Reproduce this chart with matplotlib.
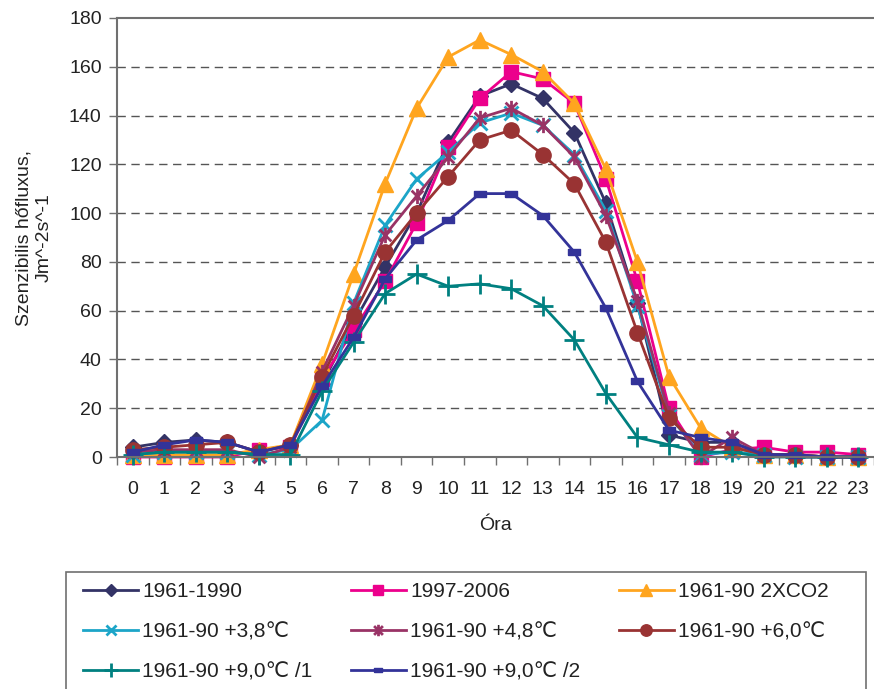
import matplotlib
matplotlib.use('Agg')
import matplotlib.pyplot as plt
import numpy as np
from matplotlib.path import Path
from matplotlib.patches import Rectangle

plt.rcParams['font.family'] = ['Liberation Sans', 'DejaVu Sans']

hours = list(range(24))

s_1961_1990 = [4, 6, 7, 6, 2, 5, 30, 55, 78, 100, 129, 148, 153, 147, 133, 104, 63, 9, 6, 6, 1, 1, 0, 0]
s_1997_2006 = [0, 0, 0, 0, 3, 4, 32, 52, 72, 96, 127, 147, 158, 155, 145, 114, 72, 20, 0, 3, 4, 2, 2, 1]
s_2xco2 = [1, 1, 1, 1, 3, 5, 38, 75, 112, 143, 164, 171, 165, 158, 145, 118, 80, 33, 12, 4, 1, 1, 0, 0]
s_plus38 = [1, 2, 2, 2, 1, 3, 15, 63, 95, 114, 125, 137, 141, 136, 124, 101, 62, 17, 1, 2, 1, 0, 0, 0]
s_plus48 = [2, 3, 3, 3, 0, 4, 35, 62, 91, 107, 123, 139, 143, 136, 123, 99, 64, 18, 0, 8, 1, 0, 0, 0]
s_plus60 = [3, 4, 5, 6, 2, 5, 33, 58, 84, 100, 115, 130, 134, 124, 112, 88, 51, 16, 4, 4, 1, 1, 0, 0]
s_plus90_1 = [1, 2, 2, 2, 1, 1, 27, 47, 67, 75, 70, 71, 69, 62, 48, 26, 8, 5, 2, 2, 0, 0, 0, 0]
s_plus90_2 = [2, 5, 7, 6, 2, 5, 29, 49, 73, 89, 97, 108, 108, 99, 84, 61, 31, 11, 8, 6, 1, 1, 0, 0]

labels = ['1961-1990', '1997-2006', '1961-90 2XCO2',
          '1961-90 +3,8\u2103', '1961-90 +4,8\u2103', '1961-90 +6,0\u2103',
          '1961-90 +9,0\u2103 /1', '1961-90 +9,0\u2103 /2']

# asterisk marker: x with a vertical bar
star = Path([(-1, -1), (1, 1), (-1, 1), (1, -1), (0, -1.3), (0, 1.3)],
            [Path.MOVETO, Path.LINETO, Path.MOVETO, Path.LINETO, Path.MOVETO, Path.LINETO])
dash = [(-1, -0.55), (1, -0.55), (1, 0.55), (-1, 0.55), (-1, -0.55)]

styles = [
    dict(color='#333366', marker='D', ms=8),
    dict(color='#ec008c', marker='s', ms=10),
    dict(color='#ffa51f', marker='^', ms=11),
    dict(color='#1ca5c8', marker='x', ms=10, mew=2),
    dict(color='#993366', marker=star, ms=11, mew=2),
    dict(color='#993333', marker='o', ms=11),
    dict(color='#008080', marker='+', ms=14, mew=2),
    dict(color='#333399', marker=dash, ms=8),
]

series = [s_1961_1990, s_1997_2006, s_2xco2, s_plus38, s_plus48, s_plus60, s_plus90_1, s_plus90_2]

fig = plt.figure(figsize=(8.74, 6.89), dpi=100)
ax = fig.add_axes([117 / 874, 1 - 457 / 689, 757 / 874, 439 / 689])

lines = []
for vals, lab, st in zip(series, labels, styles):
    ln, = ax.plot(hours, vals, lw=2, label=lab, clip_on=False, **st)
    lines.append(ln)

ax.set_xlim(-0.5, 23.5)
ax.set_ylim(0, 180)
ax.set_yticks(np.arange(0, 181, 20))
ax.set_xticks(hours)
ax.set_xticks(np.arange(-0.5, 24, 1), minor=True)
ax.tick_params(axis='x', which='major', length=0, pad=17, labelsize=14, labelcolor='#222222')
ax.tick_params(axis='x', which='minor', length=6, color='#707070', width=1)
ax.tick_params(axis='y', length=6, color='#707070', width=1, labelsize=14, pad=5, labelcolor='#222222')

for y in range(20, 180, 20):
    ax.axhline(y, color='#555555', lw=1, ls=(0, (6, 4)), zorder=0)

for side in ['left', 'bottom', 'top']:
    ax.spines[side].set_color('#707070')
    ax.spines[side].set_linewidth(1.5)
ax.spines['right'].set_visible(False)

ax.set_xlabel('Óra', fontsize=14, labelpad=14, color='#222222')
ax.set_ylabel('Szenzibilis hőfluxus,\nJm^-2s^-1', fontsize=14, labelpad=12, color='#222222')

# legend frame drawn by hand, it runs off the bottom of the picture
fig.patches.append(Rectangle((66 / 874, -0.05), 800 / 874, 1.05 - 572 / 689,
                             transform=fig.transFigure, fill=False,
                             edgecolor='#707070', lw=1.2))

# row-wise legend order, as in the original
order = [0, 3, 6, 1, 4, 7, 2, 5]
leg = fig.legend([lines[i] for i in order], [labels[i] for i in order],
                 loc='upper left', bbox_to_anchor=(83 / 874, 1 - 582 / 689),
                 ncol=3, fontsize=15, frameon=False, markerscale=0.75,
                 handlelength=2.64, handletextpad=0.2, columnspacing=1.85,
                 labelspacing=1.02, borderpad=0, borderaxespad=0, labelcolor='#222222')

fig.savefig('out.png', dpi=100)
